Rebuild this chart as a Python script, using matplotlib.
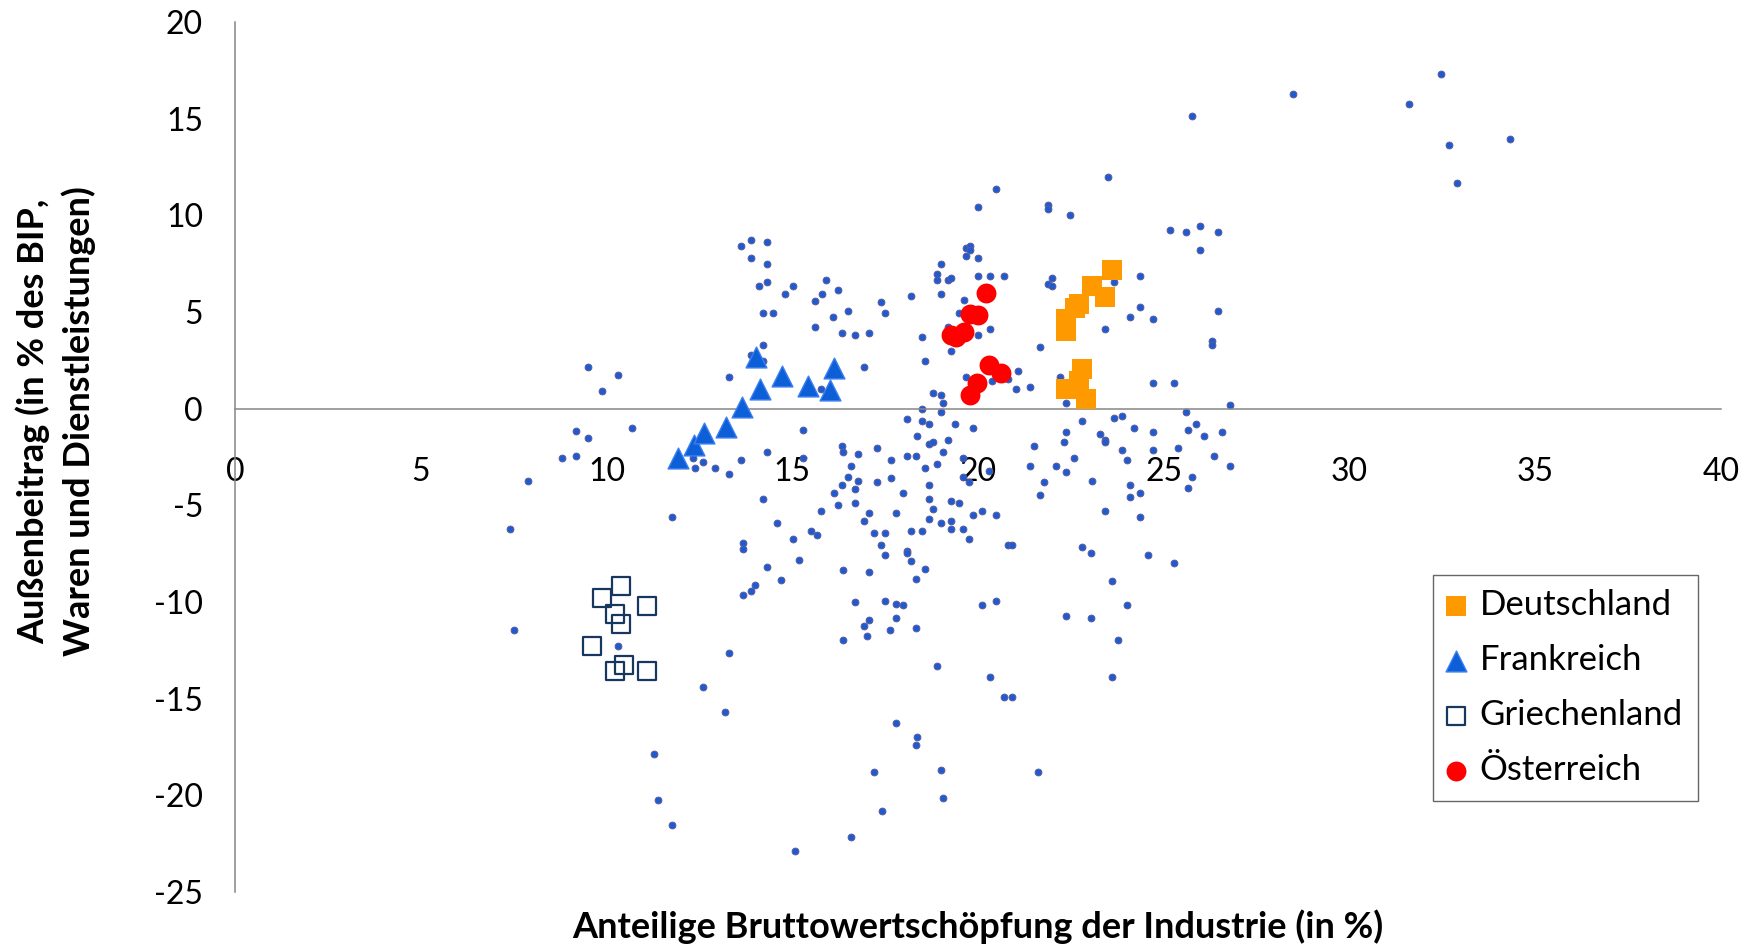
import matplotlib
matplotlib.use('Agg')
import matplotlib.pyplot as plt

# ============================================================
# DATA
# ============================================================
# all other countries / years (small blue dots)
x_other = [
    13.62, 13.89, 14.32, 13.89, 14.32, 14.10, 14.32, 14.80, 15.02, 15.90, 15.79, 15.61, 16.22, 14.21,
    14.48, 16.09, 16.49, 15.61, 16.33, 16.70, 17.08, 17.40, 14.21, 13.89, 14.21, 9.50, 10.32, 9.89,
    13.30, 16.92, 15.77, 9.19, 9.50, 10.70, 8.80, 9.19, 7.89, 12.33, 12.60, 12.38, 12.92, 13.30,
    13.62, 14.32, 15.29, 15.29, 16.33, 16.38, 16.76, 17.29, 16.59, 16.49, 16.76, 16.33, 16.70, 16.12,
    14.21, 17.29,
    7.40, 11.77, 16.22, 16.70, 15.77, 14.59, 17.08, 16.92, 17.19, 15.02, 15.50, 15.66, 13.67, 13.67,
    15.18, 14.32, 14.70, 14.00, 13.89, 13.67, 16.38, 17.08, 16.70, 17.08, 16.92, 17.02, 16.38, 7.51,
    10.32, 13.30, 12.60, 13.19, 11.29, 11.40, 11.77, 17.19, 16.59, 15.07,
    23.51, 20.48, 20.00, 21.88, 21.88, 22.47, 25.18, 25.61, 25.99, 26.47, 25.99, 19.68, 19.78, 19.78,
    19.68, 20.00, 19.01, 18.91, 18.91, 19.18, 19.28, 20.00, 20.32, 20.70, 21.99, 21.88, 21.99, 23.67,
    24.37, 18.21, 19.01, 17.51, 19.62, 19.50, 24.37, 24.10, 24.70, 26.47, 18.48, 19.18, 20.00, 20.32,
    19.28, 21.67, 23.41, 26.31, 26.31, 18.58, 19.68, 20.38, 20.81, 21.08, 21.02, 21.40, 22.20, 22.37,
    24.70, 25.29, 26.79, 18.80, 19.01, 19.07, 18.48, 19.01, 18.10, 18.48, 18.69, 19.39, 19.87, 18.37,
    18.69, 18.80, 19.18, 21.51, 22.80, 23.67, 23.89, 24.21, 24.70, 22.38, 22.31, 23.28, 23.41, 23.41,
    25.61, 25.88, 25.66, 26.09, 26.58, 25.39, 23.89, 24.70, 19.07, 25.76,
    17.67, 18.10, 18.32, 18.58, 18.91, 19.61, 19.61, 19.77, 20.30, 17.67, 18.69, 17.99, 18.69, 19.28,
    19.50, 18.80, 17.78, 18.69, 19.01, 19.28, 19.28, 19.61, 19.87, 20.11, 20.48, 19.77, 18.21, 18.48,
    17.51, 17.40, 17.51, 18.10, 18.10, 18.21, 18.58, 18.32, 20.81, 20.91, 17.51, 17.78, 17.99, 17.78,
    17.62, 18.32, 20.11, 20.48, 18.91, 20.32, 20.70, 20.91, 17.78, 18.37, 18.32, 19.01, 21.61, 19.07,
    17.42, 22.58, 21.40, 22.10, 22.37, 21.77, 21.67, 23.06, 23.41, 24.00, 24.10, 24.37, 24.10, 24.37,
    26.36, 26.79, 25.77, 25.66, 22.81, 23.03, 24.59, 25.29, 23.62, 24.00, 22.38, 23.03, 23.78, 23.62,
    28.48, 32.47, 31.61, 32.69, 34.32, 32.90,
]
y_other = [
    8.43, 8.74, 8.62, 7.79, 7.47, 6.33, 6.53, 5.91, 6.33, 6.64, 5.91, 5.59, 6.12, 4.97,
    4.97, 4.76, 5.07, 4.24, 3.93, 3.82, 3.93, 5.50, 3.30, 2.78, 2.47, 2.15, 1.74, 0.90,
    1.63, 2.15, 1.01, -1.18, -1.53, -1.01, -2.57, -2.47, -3.72, -2.57, -2.78, -3.09, -3.09, -3.40,
    -2.68, -2.26, -1.11, -2.57, -1.95, -2.26, -2.36, -2.05, -2.99, -3.51, -3.72, -3.93, -4.14, -4.34,
    -4.66, -3.82,
    -6.24, -5.61, -4.97, -4.87, -5.28, -5.91, -5.39, -5.80, -6.43, -6.74, -6.33, -6.53, -6.95, -7.26,
    -7.82, -8.20, -8.86, -9.14, -9.45, -9.66, -8.34, -8.45, -10.01, -10.95, -11.26, -11.78, -11.99, -11.47,
    -12.30, -12.62, -14.39, -15.68, -17.87, -20.26, -21.52, -18.80, -22.14, -22.87,
    11.97, 11.35, 10.41, 10.51, 10.31, 9.99, 9.26, 9.16, 9.47, 9.16, 8.22, 8.33, 8.43, 8.22,
    7.91, 7.80, 7.49, 6.97, 6.66, 6.66, 6.76, 6.87, 6.87, 6.87, 6.76, 6.45, 6.35, 6.55,
    6.87, 5.82, 5.93, 4.97, 5.61, 4.97, 5.28, 4.76, 4.66, 5.07, 3.72, 4.24, 3.82, 4.14,
    2.99, 3.20, 4.14, 3.51, 3.30, 2.47, 1.63, 1.42, 1.53, 1.95, 1.01, 1.11, 1.63, 0.28,
    1.32, 1.32, 0.17, 0.80, 0.69, 0.28, -0.03, -0.17, -0.56, -0.66, -0.77, -0.77, -1.01, -1.42,
    -1.84, -1.74, -1.63, -1.95, -0.66, -0.49, -0.38, -1.01, -1.22, -1.22, -1.74, -1.32, -1.63, -1.74,
    -0.17, -0.80, -1.11, -1.42, -1.22, -2.05, -2.16, -2.16, -2.26, 15.15,
    -2.68, -2.47, -2.47, -3.09, -2.88, -2.57, -3.51, -3.82, -3.20, -3.61, -3.93, -4.34, -4.66, -4.76,
    -4.87, -5.18, -5.39, -5.70, -5.91, -5.80, -6.22, -6.22, -5.49, -5.28, -5.49, -6.74, -6.32, -6.32,
    -6.43, -7.05, -7.58, -7.37, -7.48, -7.89, -8.31, -8.83, -7.05, -7.05, -9.97, -10.08, -10.18, -10.81,
    -11.47, -11.33, -10.18, -9.97, -13.31, -13.87, -14.91, -14.91, -16.27, -17.00, -17.41, -18.70, -18.81, -20.16,
    -20.79, -2.57, -2.99, -2.99, -3.30, -3.82, -4.45, -3.72, -5.28, -2.68, -3.93, -4.34, -4.55, -5.59,
    -2.47, -2.99, -3.51, -4.13, -7.16, -7.47, -7.58, -7.99, -8.93, -10.18, -10.70, -10.81, -11.99, -13.87,
    16.27, 17.33, 15.75, 13.66, 13.97, 11.66,
]

de_x = [23.62, 23.08, 23.41, 22.71, 22.60, 22.38, 22.38, 22.81, 22.71, 22.38, 22.92]
de_y = [7.16, 6.33, 5.80, 5.39, 5.18, 4.66, 4.03, 2.05, 1.42, 1.01, 0.49]

fr_x = [11.92, 12.35, 12.63, 13.21, 13.66, 14.14, 14.03, 14.73, 15.43, 16.02, 16.13]
fr_y = [-2.55, -1.90, -1.25, -0.95, 0.08, 1.02, 2.65, 1.68, 1.15, 0.95, 2.10]

gr_x = [10.38, 9.89, 11.08, 10.22, 10.38, 9.62, 10.48, 10.22, 11.08]
gr_y = [-9.16, -9.80, -10.22, -10.64, -11.16, -12.30, -13.24, -13.56, -13.56]

at_x = [20.22, 20.00, 19.78, 19.62, 19.41, 19.27, 20.30, 20.61, 19.98, 19.78]
at_y = [5.96, 4.83, 4.87, 3.96, 3.69, 3.82, 2.26, 1.84, 1.32, 0.69]

X_TICKS = [0, 5, 10, 15, 20, 25, 30, 35, 40]
Y_TICKS = [-25, -20, -15, -10, -5, 0, 5, 10, 15, 20]

X_LABEL = 'Anteilige Bruttowertschöpfung der Industrie (in %)'
Y_LABEL = 'Außenbeitrag (in % des BIP,\nWaren und Dienstleistungen)'

# ============================================================
# PLOT
# ============================================================
plt.rcParams['font.family'] = ['Lato', 'DejaVu Sans']
plt.rcParams['axes.unicode_minus'] = False
AXIS_GRAY = '#868686'

fig = plt.figure(figsize=(17.55, 9.47), dpi=100)
ax = fig.add_axes([0.1339, 0.0581, 0.8467, 0.9187])

ax.scatter(x_other, y_other, s=24, color='#1f5bd0', edgecolors='#5b5b9b', linewidths=0.7, zorder=2)

ax.scatter(de_x, de_y, marker='s', s=200, color='#ff9900', linewidths=0, zorder=3, label='Deutschland')
ax.scatter(fr_x, fr_y, marker='^', s=225, color='#0c5fd6', edgecolors='#3d7ef2', linewidths=1.0,
           zorder=3, label='Frankreich')
ax.scatter(gr_x, gr_y, marker='s', s=170, facecolors='none', edgecolors='#17375e', linewidths=1.6,
           zorder=3, label='Griechenland')
ax.scatter(at_x, at_y, marker='o', s=205, color='#ff0000', linewidths=0, zorder=3, label='Österreich')

ax.set_xlim(0, 40)
ax.set_ylim(-25, 20)
ax.set_xticks(X_TICKS)
ax.set_yticks(Y_TICKS)

for side in ['top', 'right']:
    ax.spines[side].set_visible(False)
ax.spines['bottom'].set_position(('data', 0))
for side in ['left', 'bottom']:
    ax.spines[side].set_color(AXIS_GRAY)
    ax.spines[side].set_linewidth(1.1)

ax.tick_params(axis='x', length=0, pad=35, labelsize=23)
ax.tick_params(axis='y', length=0, pad=23, labelsize=23)

ax.set_xlabel(X_LABEL, fontsize=26, fontweight='bold', va='center')
ax.xaxis.set_label_coords(0.5, -0.040)
ax.set_ylabel(Y_LABEL, fontsize=26, fontweight='bold', va='center', linespacing=1.4)
ax.yaxis.set_label_coords(-0.1205, 0.541)

leg = ax.legend(loc='upper left', bbox_to_anchor=(0.8165, 0.393), bbox_transform=fig.transFigure,
                fontsize=25, frameon=True, fancybox=False, borderaxespad=0, borderpad=0.42,
                labelspacing=0.66, handletextpad=0.42, handlelength=0.51, scatterpoints=1)
leg.get_frame().set_edgecolor('#404040')
leg.get_frame().set_linewidth(1.0)

plt.savefig('out.png', dpi=100)
